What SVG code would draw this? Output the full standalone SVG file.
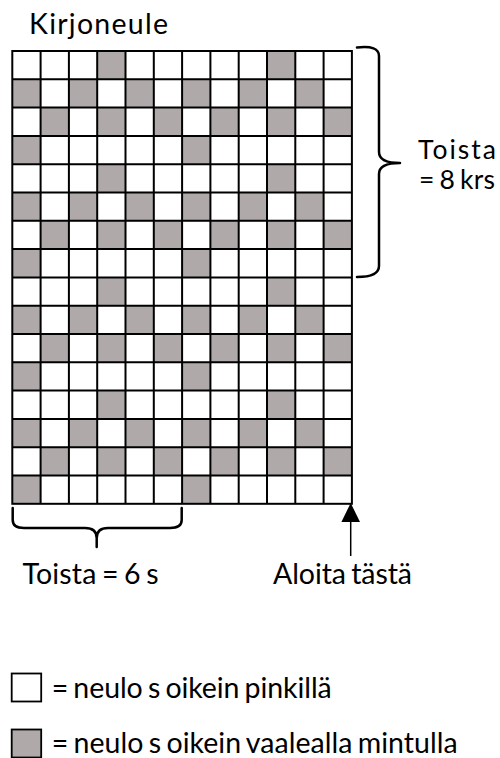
<svg xmlns="http://www.w3.org/2000/svg" width="500" height="758" viewBox="0 0 500 758">
<style>
text{font-family:Lato,"Noto Sans","Liberation Sans",sans-serif;fill:#000;font-size:28.5px;word-spacing:-2px}
.s{font-size:26.5px}
.g{fill:#afaaa9}
.br{fill:none;stroke:#000;stroke-width:2.5;stroke-linecap:round;stroke-linejoin:round}
.gl{fill:none;stroke:#000;stroke-width:2}
</style>
<defs>
<pattern id="rep" x="12.3" y="51" width="169.8" height="226.4" patternUnits="userSpaceOnUse">
<rect width="169.8" height="226.4" fill="#fff"/>
<g class="g">
<rect x="84.9" y="0" width="28.3" height="28.3"/>
<rect x="0" y="28.3" width="28.3" height="28.3"/><rect x="56.6" y="28.3" width="28.3" height="28.3"/><rect x="113.2" y="28.3" width="28.3" height="28.3"/>
<rect x="28.3" y="56.6" width="28.3" height="28.3"/><rect x="84.9" y="56.6" width="28.3" height="28.3"/><rect x="141.5" y="56.6" width="28.3" height="28.3"/>
<rect x="0" y="84.9" width="28.3" height="28.3"/>
<rect x="84.9" y="113.2" width="28.3" height="28.3"/>
<rect x="0" y="141.5" width="28.3" height="28.3"/><rect x="56.6" y="141.5" width="28.3" height="28.3"/><rect x="113.2" y="141.5" width="28.3" height="28.3"/>
<rect x="28.3" y="169.8" width="28.3" height="28.3"/><rect x="84.9" y="169.8" width="28.3" height="28.3"/><rect x="141.5" y="169.8" width="28.3" height="28.3"/>
<rect x="0" y="198.1" width="28.3" height="28.3"/>
</g>
</pattern>
</defs>
<g id="title"><text x="29" y="33.5" textLength="139" lengthAdjust="spacing">Kirjoneule</text></g>
<g id="chart">
<rect x="12.3" y="51" width="339.6" height="452.8" fill="url(#rep)"/>
<path class="gl" d="M40.6 51V503.8M68.9 51V503.8M97.2 51V503.8M125.5 51V503.8M153.8 51V503.8M182.1 51V503.8M210.4 51V503.8M238.7 51V503.8M267 51V503.8M295.3 51V503.8M323.6 51V503.8
M12.3 79.3H351.9M12.3 107.6H351.9M12.3 135.9H351.9M12.3 164.2H351.9M12.3 192.5H351.9M12.3 220.8H351.9M12.3 249.1H351.9M12.3 277.4H351.9M12.3 305.7H351.9M12.3 334H351.9M12.3 362.3H351.9M12.3 390.6H351.9M12.3 418.9H351.9M12.3 447.2H351.9M12.3 475.5H351.9"/>
<rect x="12.3" y="51" width="339.6" height="452.8" class="gl"/>
</g>
<g id="connectors">
<path class="br" d="M357 47.5Q379 45 379 56V152Q379 163 400 163Q379 163 379 174V266Q379 277 357 277"/>
<path class="br" d="M12.7 508V520Q12.7 528 24 528H85Q96.7 528 96.7 538V547M96.7 538Q96.7 528 108 528H170Q181.7 528 181.7 520V508"/>
<line x1="350.7" y1="556" x2="350.7" y2="515" stroke="#000" stroke-width="1.5"/>
<path d="M350.7 503L360 522H341.4Z" fill="#000"/>
</g>
<g id="label-rows"><text class="s" x="418" y="158.5" textLength="78" lengthAdjust="spacing">Toista</text><text class="s" x="419" y="188.5" textLength="76" lengthAdjust="spacing">= 8 krs</text></g>
<g id="label-sts"><text x="22.5" y="584" textLength="136" lengthAdjust="spacing">Toista = 6 s</text></g>
<g id="label-start"><text x="273" y="584" textLength="139" lengthAdjust="spacing">Aloita tästä</text></g>
<g id="legend-white"><rect x="11.7" y="673.5" width="29.5" height="28" fill="#fff" stroke="#000" stroke-width="1.8"/><text x="51.7" y="698" textLength="280" lengthAdjust="spacing">= neulo s oikein pinkillä</text></g>
<g id="legend-gray"><rect x="11.7" y="729.5" width="29.5" height="28" fill="#afaaa9" stroke="#000" stroke-width="1.8"/><text x="51.7" y="753" textLength="406" lengthAdjust="spacing">= neulo s oikein vaalealla mintulla</text></g>
</svg>
